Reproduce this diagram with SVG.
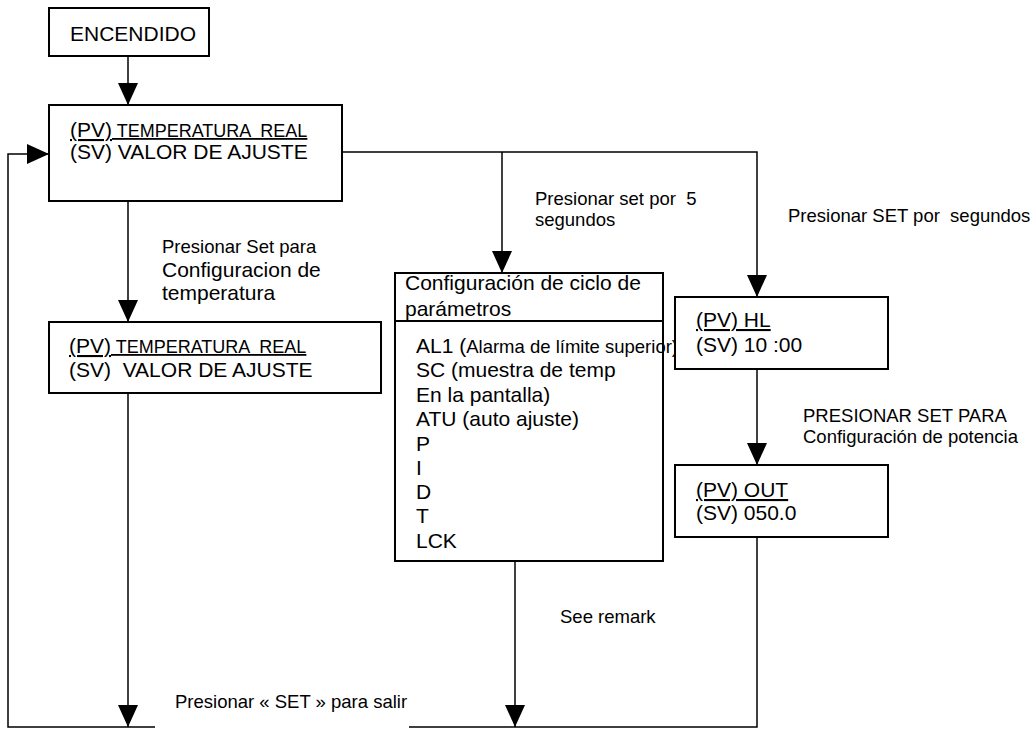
<svg xmlns="http://www.w3.org/2000/svg" width="1034" height="729" viewBox="0 0 1034 729">
<style>
text{font-family:"Liberation Sans",Arial,sans-serif;fill:#000;white-space:pre}
.b{fill:#fff;stroke:#000;stroke-width:2}
.c{fill:none;stroke:#000;stroke-width:1.5}
.L{font-size:21px}
.S{font-size:18.5px}
.u{text-decoration:underline}
</style>
<defs>
<marker id="ah" markerUnits="userSpaceOnUse" markerWidth="22" markerHeight="20" refX="22" refY="10" orient="auto">
<path d="M0,0 L22,10 L0,20 Z" fill="#000"/>
</marker>
</defs>
<rect width="1034" height="729" fill="#fff"/>
<g id="connectors">
<path class="c" d="M128,56 V105" marker-end="url(#ah)"/>
<path class="c" d="M342,152 H757 V297" marker-end="url(#ah)"/>
<path class="c" d="M502,152 V273" marker-end="url(#ah)"/>
<path class="c" d="M128,201 V322" marker-end="url(#ah)"/>
<path class="c" d="M128,393 V727" marker-end="url(#ah)"/>
<path class="c" d="M515,561 V727" marker-end="url(#ah)"/>
<path class="c" d="M757,369 V465" marker-end="url(#ah)"/>
<path class="c" d="M757,537 V727 H409"/>
<path class="c" d="M155,727 H8 V154 H49" marker-end="url(#ah)"/>
<text class="S" x="535" y="205">Presionar set por  5</text>
<text class="S" x="535" y="226">segundos</text>
<text class="S" x="788" y="222">Presionar SET por  segundos</text>
<text class="S" x="162" y="253">Presionar Set para</text>
<text class="L" x="162" y="277">Configuracion de</text>
<text class="L" x="162" y="300">temperatura</text>
<text class="S" x="803" y="422">PRESIONAR SET PARA</text>
<text class="S" x="803" y="443">Configuración de potencia</text>
<text class="S" x="560" y="623">See remark</text>
<text class="S" x="175" y="708">Presionar « SET » para salir</text>
</g>
<g id="encendido">
<rect class="b" x="49" y="8" width="160" height="48"/>
<text class="L" x="70" y="41">ENCENDIDO</text>
</g>
<g id="main">
<rect class="b" x="49" y="105" width="293" height="96"/>
<text class="u" x="70" y="137"><tspan class="L">(PV)</tspan><tspan style="font-size:18px"> TEMPERATURA  REAL</tspan></text>
<text class="L" x="70" y="159">(SV) VALOR DE AJUSTE</text>
</g>
<g id="temp-config">
<rect class="b" x="49" y="322" width="332" height="71"/>
<text class="u" x="69" y="353"><tspan class="L">(PV)</tspan><tspan style="font-size:18px"> TEMPERATURA  REAL</tspan></text>
<text class="L" x="69" y="377">(SV)  VALOR DE AJUSTE</text>
</g>
<g id="param-cycle">
<rect class="b" x="395" y="273" width="268" height="288"/>
<line x1="395" y1="321" x2="663" y2="321" stroke="#000" stroke-width="2"/>
<text class="L" x="405" y="290">Configuración de ciclo de</text>
<text class="L" x="405" y="316">parámetros</text>
<text x="416" y="353"><tspan class="L">AL1 (</tspan><tspan class="S">Alarma de límite superior)</tspan></text>
<text class="L" x="416" y="377">SC (muestra de temp</text>
<text class="L" x="416" y="402">En la pantalla)</text>
<text class="L" x="416" y="426">ATU (auto ajuste)</text>
<text class="L" x="416" y="451">P</text>
<text class="L" x="416" y="475">I</text>
<text class="L" x="416" y="499">D</text>
<text class="L" x="416" y="523">T</text>
<text class="L" x="416" y="548">LCK</text>
</g>
<g id="hl">
<rect class="b" x="675" y="297" width="213" height="72"/>
<text class="L u" x="696" y="327">(PV) HL</text>
<text class="L" x="696" y="352">(SV) 10 :00</text>
</g>
<g id="out">
<rect class="b" x="675" y="465" width="213" height="72"/>
<text class="L u" x="696" y="497">(PV) OUT</text>
<text class="L" x="696" y="520">(SV) 050.0</text>
</g>
</svg>
